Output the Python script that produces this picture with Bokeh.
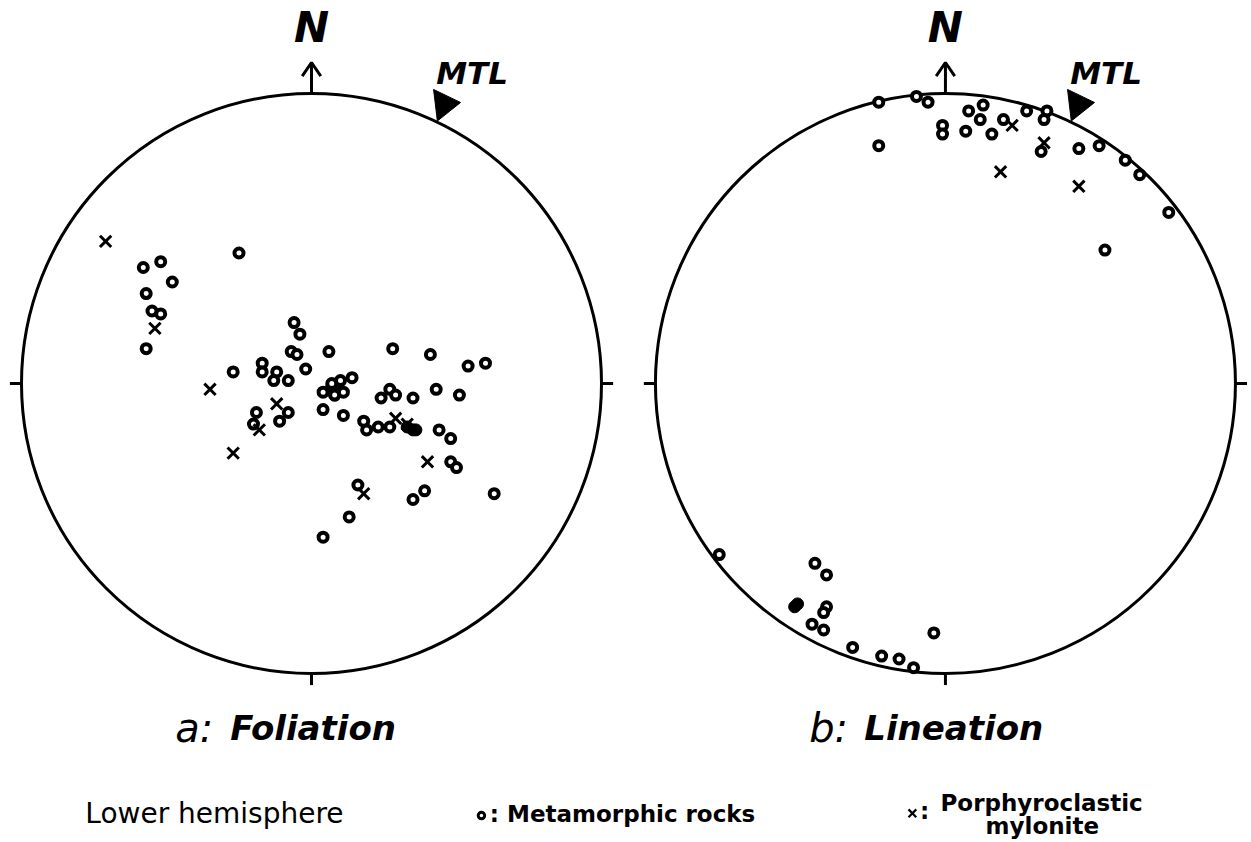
from bokeh.plotting import figure
from bokeh.models import Range1d
from bokeh.core.properties import value
from bokeh.embed import file_html
from bokeh.resources import INLINE
import numpy as np

# ---------------- data (net coordinates: east, north; unit circle) ----------------
# a: Foliation poles
fol_meta_e = [-0.58, -0.52, -0.48, -0.57, -0.55, -0.52, -0.57, -0.25, -0.27, -0.06,
              -0.04, -0.07, -0.05, -0.02, -0.17, -0.17, -0.12, -0.13, -0.08, -0.19,
              -0.08, -0.11, -0.20, 0.06, 0.28, 0.41, 0.54, 0.60, 0.07, 0.10,
              0.04, 0.08, 0.11, 0.14, 0.04, 0.11, 0.27, 0.24, 0.29, 0.35,
              0.43, 0.51, 0.18, 0.19, 0.23, 0.27, 0.44, 0.48, 0.48, 0.50,
              0.63, 0.39, 0.35, 0.16, 0.13, 0.04]
fol_meta_n = [0.40, 0.42, 0.35, 0.31, 0.25, 0.24, 0.12, 0.45, 0.04, 0.21,
              0.17, 0.11, 0.10, 0.05, 0.07, 0.04, 0.04, 0.01, 0.01, -0.10,
              -0.10, -0.13, -0.14, 0.11, 0.12, 0.10, 0.06, 0.07, 0.00, 0.01,
              -0.03, -0.04, -0.03, 0.02, -0.09, -0.11, -0.02, -0.05, -0.04, -0.05,
              -0.02, -0.04, -0.13, -0.16, -0.15, -0.15, -0.16, -0.19, -0.27, -0.29,
              -0.38, -0.37, -0.40, -0.35, -0.46, -0.53]
fol_dense_e = [0.07, 0.09, 0.08, 0.33, 0.35, 0.36]
fol_dense_n = [-0.01, -0.02, -0.04, -0.15, -0.16, -0.16]
fol_mylo_e = [-0.71, -0.54, -0.35, -0.12, -0.18, -0.27, 0.29, 0.33, 0.40, 0.18]
fol_mylo_n = [0.49, 0.19, -0.02, -0.07, -0.16, -0.24, -0.12, -0.14, -0.27, -0.38]

# b: Lineation
lin_meta_e = [-0.23, -0.10, -0.06, 0.35, -0.23, 0.08, 0.13, 0.12, -0.01, -0.01,
              0.07, 0.16, 0.20, 0.28, 0.34, 0.33, 0.46, 0.53, 0.62, 0.67,
              0.77, 0.55, -0.78, -0.45, -0.41, -0.41, -0.42, -0.46, -0.42, -0.32,
              -0.22, -0.16, -0.11, -0.04]
lin_meta_n = [0.97, 0.99, 0.97, 0.94, 0.82, 0.94, 0.96, 0.91, 0.89, 0.86,
              0.87, 0.86, 0.91, 0.94, 0.91, 0.80, 0.81, 0.82, 0.77, 0.72,
              0.59, 0.46, -0.59, -0.62, -0.66, -0.77, -0.79, -0.83, -0.85, -0.91,
              -0.94, -0.95, -0.98, -0.86]
lin_dense_e = [-0.52, -0.51]
lin_dense_n = [-0.77, -0.76]
lin_mylo_e = [0.23, 0.34, 0.19, 0.46]
lin_mylo_n = [0.89, 0.83, 0.73, 0.68]

titles_letter = ["a:", "b:"]
titles_word = ["Foliation", "Lineation"]

# ---------------- layout ----------------
R_OFF = 2.186   # x offset of the second net (in net radii)
FONT = value("DejaVu Sans")

p = figure(width=1250, height=840,
           x_range=Range1d(-1.0724, 3.2379), y_range=Range1d(-1.5759, 1.3207),
           output_backend="svg", toolbar_location=None, min_border=0,
           x_axis_type=None, y_axis_type=None)
p.grid.visible = False
p.outline_line_color = None
p.background_fill_color = "white"

nets = [(0.0, fol_meta_e, fol_meta_n, fol_dense_e, fol_dense_n, fol_mylo_e, fol_mylo_n),
        (R_OFF, lin_meta_e, lin_meta_n, lin_dense_e, lin_dense_n, lin_mylo_e, lin_mylo_n)]

for i, (ox, me, mn, de, dn, xe, xn) in enumerate(nets):
    # primitive circle
    p.circle(x=[ox], y=[0], radius=1, fill_color=None, line_color="black", line_width=3)
    # ticks W, E, S
    p.segment(x0=[ox + 1, ox - 1, ox], y0=[0, 0, -1],
              x1=[ox + 1.04, ox - 1.04, ox], y1=[0, 0, -1.04],
              line_color="black", line_width=3)
    # north arrow
    p.segment(x0=[ox], y0=[1.0], x1=[ox], y1=[1.105], line_color="black", line_width=3)
    p.line(x=[ox - 0.032, ox, ox + 0.032], y=[1.06, 1.107, 1.06],
           line_color="black", line_width=3)
    p.text(x=[ox], y=[1.227], text=["N"], text_font=FONT, text_font_size="42px",
           text_font_style="bold italic", text_align="center", text_baseline="alphabetic",
           text_color="black")
    # MTL flag
    p.patch(x=[ox + 0.421, ox + 0.514, ox + 0.434], y=[1.014, 0.969, 0.905],
            fill_color="black", line_color="black", line_width=1)
    p.text(x=[ox + 0.43], y=[1.072], text=["MTL"], text_font=FONT, text_font_size="31px",
           text_font_style="bold italic", text_align="left", text_baseline="alphabetic",
           text_color="black")
    # data
    p.scatter(x=np.array(de) + ox, y=dn, marker="circle", size=12,
              fill_color="black", line_color="black", line_width=1)
    p.scatter(x=np.array(me) + ox, y=mn, marker="circle", size=9,
              fill_color="white", line_color="black", line_width=4)
    p.scatter(x=np.array(xe) + ox, y=xn, marker="x", size=16,
              line_color="black", line_width=3)
    # panel titles
    p.text(x=[ox - 0.47], y=[-1.189], text=[titles_letter[i]], text_font=FONT,
           text_font_size="40px", text_font_style="italic", text_align="left",
           text_baseline="alphabetic", text_color="black")
    p.text(x=[ox - 0.28], y=[-1.189], text=[titles_word[i]], text_font=FONT,
           text_font_size="34px", text_font_style="bold italic", text_align="left",
           text_baseline="alphabetic", text_color="black")

# legend row
p.text(x=[-0.78], y=[-1.483], text=["Lower hemisphere"], text_font=FONT,
       text_font_size="28px", text_font_style="normal", text_align="left",
       text_baseline="alphabetic", text_color="black")
p.scatter(x=[0.586], y=[-1.49], marker="circle", size=6.5, fill_color="white",
          line_color="black", line_width=3)
p.text(x=[0.615], y=[-1.483], text=[": Metamorphic rocks"], text_font=FONT,
       text_font_size="23px", text_font_style="bold", text_align="left",
       text_baseline="alphabetic", text_color="black")
p.scatter(x=[2.072], y=[-1.482], marker="x", size=11, line_color="black", line_width=2.2)
p.text(x=[2.098], y=[-1.475], text=[":"], text_font=FONT,
       text_font_size="23px", text_font_style="bold", text_align="left",
       text_baseline="alphabetic", text_color="black")
p.text(x=[2.169], y=[-1.448], text=["Porphyroclastic"], text_font=FONT,
       text_font_size="23px", text_font_style="bold", text_align="left",
       text_baseline="alphabetic", text_color="black")
p.text(x=[2.52], y=[-1.527], text=["mylonite"], text_font=FONT,
       text_font_size="23px", text_font_style="bold", text_align="center",
       text_baseline="alphabetic", text_color="black")

open("out.html", "w").write(file_html(p, INLINE))
